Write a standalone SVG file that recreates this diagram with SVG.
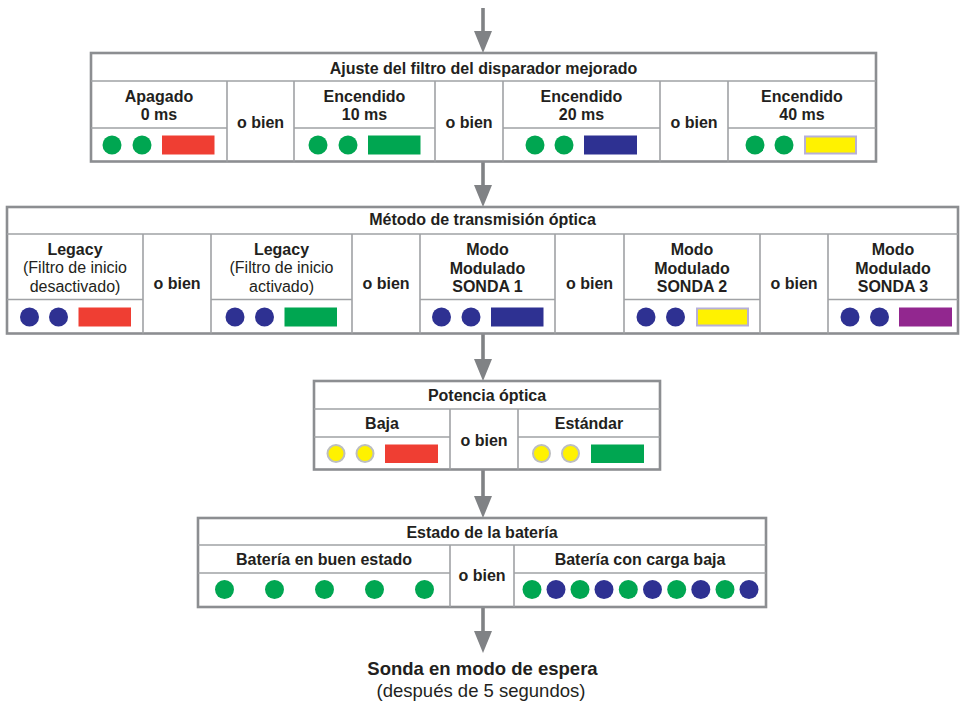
<svg xmlns="http://www.w3.org/2000/svg" width="960" height="701" viewBox="0 0 960 701">
<style>
text{font-family:"Liberation Sans",Arial,sans-serif;fill:#231f20;text-anchor:middle;font-size:16px}
.b{font-weight:bold}
.r{font-weight:normal}
.big{font-size:18.5px}
.outer{fill:#fff;stroke:#8c8e91;stroke-width:2.6}
.in{stroke:#a0a2a5;stroke-width:1.6;fill:none}
.g{fill:#00a651}
.bl{fill:#2e3192}
.rd{fill:#ef3e33}
.pu{fill:#92278f}
.ye{fill:#fff200;stroke:#b6b0d8;stroke-width:2}
.yc{fill:#fff200;stroke:#bcbec0;stroke-width:2}
.conn{stroke:#808285;stroke-width:3.6;fill:none}
</style>
<defs>
<marker id="ah" markerUnits="userSpaceOnUse" markerWidth="22" markerHeight="18" viewBox="0 0 22 18" refX="12" refY="9" orient="auto">
<path d="M0,0 L22,9 L0,18 Z" fill="#808285"/>
</marker>
</defs>

<g id="connectors">
<line id="c0" class="conn" x1="483" y1="8" x2="483" y2="43" marker-end="url(#ah)"/>
<line id="c1" class="conn" x1="483" y1="162" x2="483" y2="197" marker-end="url(#ah)"/>
<line id="c2" class="conn" x1="483" y1="334" x2="483" y2="371" marker-end="url(#ah)"/>
<line id="c3" class="conn" x1="483" y1="469" x2="483" y2="508" marker-end="url(#ah)"/>
<line id="c4" class="conn" x1="483" y1="607" x2="483" y2="643" marker-end="url(#ah)"/>
</g>

<g id="filtro">
<rect class="outer" x="91" y="53" width="785" height="108.5"/>
<path class="in" d="M91,81H876 M227,81V161.5 M294,81V161.5 M435,81V161.5 M503,81V161.5 M660,81V161.5 M728,81V161.5 M91,128H227 M294,128H435 M503,128H660 M728,128H876"/>
<text class="b" x="483.5" y="74">Ajuste del filtro del disparador mejorado</text>
<text class="b" x="159" y="101.5">Apagado</text><text class="b" x="159" y="120">0 ms</text>
<text class="b" x="260.5" y="128">o bien</text>
<text class="b" x="364.5" y="101.5">Encendido</text><text class="b" x="364.5" y="120">10 ms</text>
<text class="b" x="469" y="128">o bien</text>
<text class="b" x="581.5" y="101.5">Encendido</text><text class="b" x="581.5" y="120">20 ms</text>
<text class="b" x="694" y="128">o bien</text>
<text class="b" x="802" y="101.5">Encendido</text><text class="b" x="802" y="120">40 ms</text>
<circle class="g" cx="112" cy="145" r="9.5"/><circle class="g" cx="142" cy="145" r="9.5"/><rect class="rd" x="162" y="135.5" width="52.5" height="19"/>
<circle class="g" cx="318" cy="145" r="9.5"/><circle class="g" cx="348" cy="145" r="9.5"/><rect class="g" x="368" y="135.5" width="52.5" height="19"/>
<circle class="g" cx="535" cy="145" r="9.5"/><circle class="g" cx="564" cy="145" r="9.5"/><rect class="bl" x="584" y="135.5" width="53" height="19"/>
<circle class="g" cx="755" cy="145" r="9.5"/><circle class="g" cx="784" cy="145" r="9.5"/><rect class="ye" x="805" y="136.5" width="51" height="17"/>
</g>

<g id="metodo">
<rect class="outer" x="7" y="207" width="951" height="126.5"/>
<path class="in" d="M7,234H958 M143,234V333.5 M211,234V333.5 M352,234V333.5 M420,234V333.5 M555,234V333.5 M624,234V333.5 M760,234V333.5 M828,234V333.5 M7,299.5H143 M211,299.5H352 M420,299.5H555 M624,299.5H760 M828,299.5H958"/>
<text class="b" x="482.5" y="225">Método de transmisión óptica</text>
<text class="b" x="75" y="254.8">Legacy</text><text class="r" x="75" y="273.3">(Filtro de inicio</text><text class="r" x="75" y="292">desactivado)</text>
<text class="b" x="177" y="289">o bien</text>
<text class="b" x="281.5" y="254.8">Legacy</text><text class="r" x="281.5" y="273.3">(Filtro de inicio</text><text class="r" x="281.5" y="292">activado)</text>
<text class="b" x="386" y="289">o bien</text>
<text class="b" x="487.5" y="254.8">Modo</text><text class="b" x="487.5" y="273.6">Modulado</text><text class="b" x="487.5" y="292.4">SONDA 1</text>
<text class="b" x="589.5" y="289">o bien</text>
<text class="b" x="692" y="254.8">Modo</text><text class="b" x="692" y="273.6">Modulado</text><text class="b" x="692" y="292.4">SONDA 2</text>
<text class="b" x="794" y="289">o bien</text>
<text class="b" x="893" y="254.8">Modo</text><text class="b" x="893" y="273.6">Modulado</text><text class="b" x="893" y="292.4">SONDA 3</text>
<circle class="bl" cx="29.5" cy="317" r="9.5"/><circle class="bl" cx="58.5" cy="317" r="9.5"/><rect class="rd" x="78.5" y="307.5" width="52.5" height="19"/>
<circle class="bl" cx="235" cy="317" r="9.5"/><circle class="bl" cx="264.5" cy="317" r="9.5"/><rect class="g" x="284.5" y="307.5" width="52.5" height="19"/>
<circle class="bl" cx="441.5" cy="317" r="9.5"/><circle class="bl" cx="471" cy="317" r="9.5"/><rect class="bl" x="491" y="307.5" width="52.5" height="19"/>
<circle class="bl" cx="646" cy="317" r="9.5"/><circle class="bl" cx="675.5" cy="317" r="9.5"/><rect class="ye" x="697" y="308.5" width="51" height="17"/>
<circle class="bl" cx="850" cy="317" r="9.5"/><circle class="bl" cx="879.5" cy="317" r="9.5"/><rect class="pu" x="899" y="307.5" width="53" height="19"/>
</g>

<g id="potencia">
<rect class="outer" x="314" y="381" width="346" height="88.5"/>
<path class="in" d="M314,409H660 M450,409V469.5 M518,409V469.5 M314,437H450 M518,437H660"/>
<text class="b" x="487" y="401">Potencia óptica</text>
<text class="b" x="382" y="429">Baja</text>
<text class="b" x="484" y="446">o bien</text>
<text class="b" x="589" y="429">Estándar</text>
<circle class="yc" cx="336" cy="453.5" r="8.5"/><circle class="yc" cx="365" cy="453.5" r="8.5"/><rect class="rd" x="385" y="444.5" width="53" height="18.5"/>
<circle class="yc" cx="541.5" cy="453.5" r="8.5"/><circle class="yc" cx="570.5" cy="453.5" r="8.5"/><rect class="g" x="591" y="444.5" width="53" height="18.5"/>
</g>

<g id="bateria">
<rect class="outer" x="198" y="518" width="568" height="89"/>
<path class="in" d="M198,545H766 M450,545V607 M514,545V607 M198,573H450 M514,573H766"/>
<text class="b" x="482" y="537.5">Estado de la batería</text>
<text class="b" x="324" y="564.5">Batería en buen estado</text>
<text class="b" x="482" y="581">o bien</text>
<text class="b" x="640" y="564.5">Batería con carga baja</text>
<circle class="g" cx="224.5" cy="589.5" r="9.5"/><circle class="g" cx="274.5" cy="589.5" r="9.5"/><circle class="g" cx="324.5" cy="589.5" r="9.5"/><circle class="g" cx="374.5" cy="589.5" r="9.5"/><circle class="g" cx="424.5" cy="589.5" r="9.5"/>
<circle class="g" cx="532" cy="589.5" r="9.5"/><circle class="bl" cx="556" cy="589.5" r="9.5"/><circle class="g" cx="580" cy="589.5" r="9.5"/><circle class="bl" cx="604" cy="589.5" r="9.5"/><circle class="g" cx="628.3" cy="589.5" r="9.5"/><circle class="bl" cx="652.5" cy="589.5" r="9.5"/><circle class="g" cx="676.7" cy="589.5" r="9.5"/><circle class="bl" cx="700.8" cy="589.5" r="9.5"/><circle class="g" cx="725" cy="589.5" r="9.5"/><circle class="bl" cx="749" cy="589.5" r="9.5"/>
</g>

<g id="espera">
<text class="b big" x="482.5" y="675">Sonda en modo de espera</text>
<text class="r big" x="481" y="697">(después de 5 segundos)</text>
</g>
</svg>
